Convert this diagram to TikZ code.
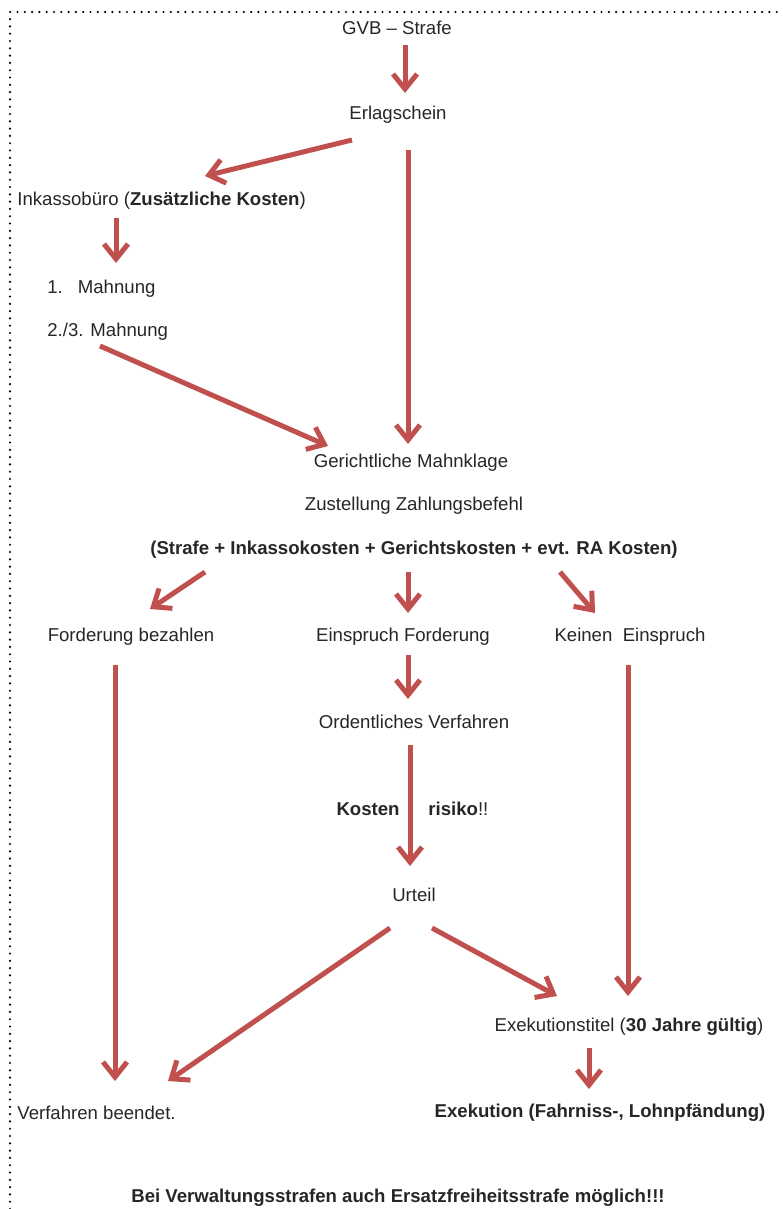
\documentclass[tikz,border=0pt]{standalone}
\usepackage{fontspec}
\setmainfont{Liberation Sans}
\usetikzlibrary{arrows.meta}
\definecolor{pfeilrot}{RGB}{192,80,77}

\begin{document}
\begin{tikzpicture}[x=0.5pt, y=-0.5pt, >={Straight Barb[length=7.5pt, width=12pt]}]
  \tikzstyle{schritt} = [inner sep=0pt, text=black!85, font={\fontsize{9.3pt}{11pt}\selectfont}];
  \tikzstyle{fett} = [schritt, font={\fontsize{9.3pt}{11pt}\selectfont\bfseries}];

  \tikzstyle{pfeil} = [draw=pfeilrot, line width=2.5pt, ->];
  \tikzstyle{rahmen} = [black, line width=1.2pt, line cap=round, dash pattern=on 0pt off 3.65pt];

  \useasboundingbox (0,0) rectangle (782,1209);
  \draw[rahmen] (10,1209) -- (10,12) -- (782,12);

  \node[schritt] (gvb)        at (397,28)  {GVB -- Strafe};
  \node[schritt] (erl)        at (398,115) {Erlagschein};
  \node[schritt, anchor=west] (inkasso) at (17,201) {Inkassobüro (\textbf{Zusätzliche Kosten})};
  \node[schritt, anchor=west] (mahn1)   at (47,289) {1.\kern 7.5pt Mahnung};
  \node[schritt, anchor=west] (mahn23)  at (47,332) {2./3. Mahnung};
  \node[schritt] (gericht)    at (411,463) {Gerichtliche Mahnklage};
  \node[schritt] (zustellung) at (414,506) {Zustellung Zahlungsbefehl};
  \node[fett]    (kosten)     at (414,550) {(Strafe + Inkassokosten + Gerichtskosten + evt. RA Kosten)};
  \node[schritt] (bezahlen)   at (131,637) {Forderung bezahlen};
  \node[schritt] (einspruch)  at (403,637) {Einspruch Forderung};
  \node[schritt] (keinen)     at (630,637) {Keinen~~Einspruch};
  \node[schritt] (ordentlich) at (414,722) {Ordentliches Verfahren};
  \node[fett, anchor=east]    (risikoL) at (400,809) {Kosten};
  \node[schritt, anchor=west] (risikoR) at (428,809) {\textbf{risiko}!!};
  \node[schritt] (urteil)     at (414,895) {Urteil};
  \node[schritt] (titel)      at (629,1027) {Exekutionstitel (\textbf{30 Jahre gültig})};
  \node[schritt, anchor=west] (beendet) at (17,1113) {Verfahren beendet.};
  \node[fett]    (exekution)  at (600,1113) {Exekution (Fahrniss-, Lohnpfändung)};
  \node[fett]    (hinweis)    at (398,1198) {Bei Verwaltungsstrafen auch Ersatzfreiheitsstrafe möglich!!!};

  \draw[pfeil] ([shift={(8,17)}]gvb.center) -- ([shift={(7,-22)}]erl.center);
  \draw[pfeil] ([shift={(-46,25)}]erl.center) -- ([shift={(188,-25)}]inkasso.west);
  \draw[pfeil] ([shift={(10,35)}]erl.center) -- ([shift={(-3,-19)}]gericht.center);
  \draw[pfeil] ([shift={(99,17)}]inkasso.west) -- ([shift={(69,-26)}]mahn1.west);
  \draw[pfeil] ([shift={(53,14)}]mahn23.west) -- ([shift={(-83,-17)}]gericht.center);
  \draw[pfeil] ([shift={(-209,22)}]kosten.center) -- ([shift={(19,-28)}]bezahlen.center);
  \draw[pfeil] ([shift={(-6,22)}]kosten.center) -- ([shift={(5,-24)}]einspruch.center);
  \draw[pfeil] ([shift={(146,22)}]kosten.center) -- ([shift={(-35,-24)}]keinen.center);
  \draw[pfeil] ([shift={(-16,28)}]bezahlen.center) -- ([shift={(98,-32)}]beendet.west);
  \draw[pfeil] ([shift={(5,18)}]einspruch.center) -- ([shift={(-6,-23)}]ordentlich.center);
  \draw[pfeil] ([shift={(-4,23)}]ordentlich.center) -- ([shift={(-4,-29)}]urteil.center);
  \draw[pfeil] ([shift={(-2,28)}]keinen.center) -- ([shift={(-1,-31)}]titel.center);
  \draw[pfeil] ([shift={(-24,33)}]urteil.center) -- ([shift={(151,-32)}]beendet.west);
  \draw[pfeil] ([shift={(18,33)}]urteil.center) -- ([shift={(-72,-31)}]titel.center);
  \draw[pfeil] ([shift={(-40,21)}]titel.center) -- ([shift={(-11,-24)}]exekution.center);
\end{tikzpicture}
\end{document}
